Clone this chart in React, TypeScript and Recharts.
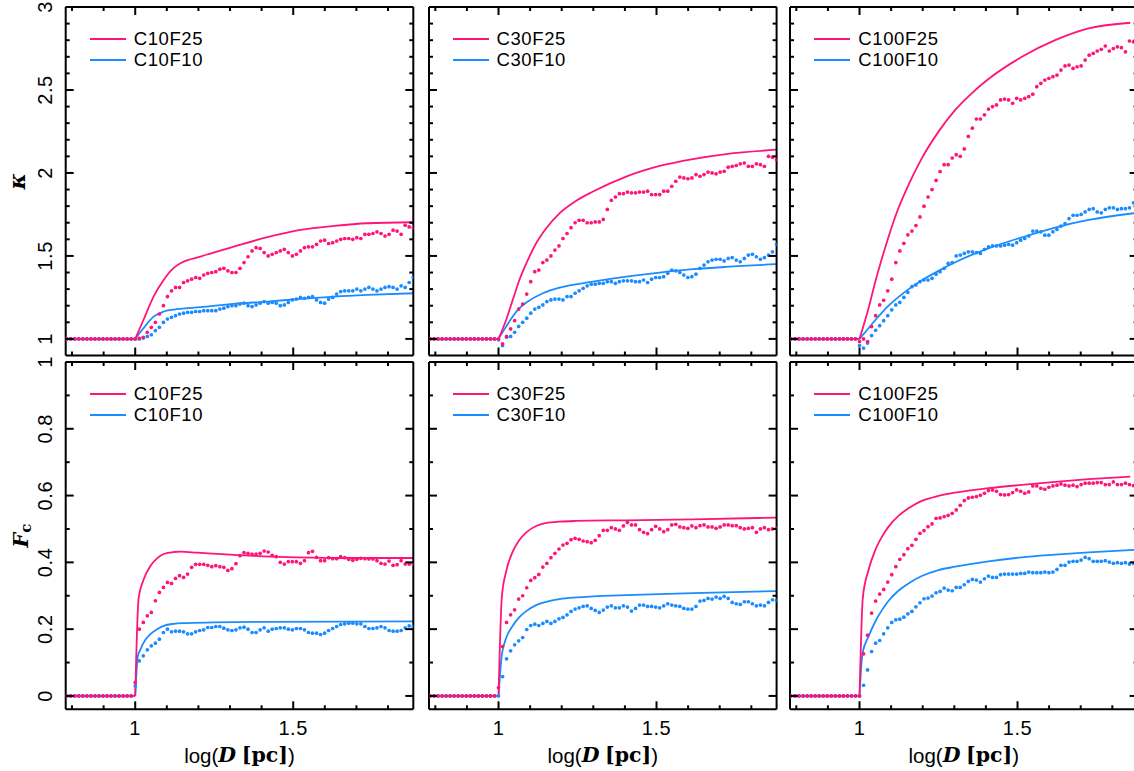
import React from 'react';
import { ComposedChart, Line, XAxis, YAxis, Legend, Label } from 'recharts';

const PINK = '#ff1478';
const BLUE = '#1a8cff';
const SANS = '"Liberation Sans", Arial, Helvetica, sans-serif';
const SERIF = '"DejaVu Serif", "Liberation Serif", serif';

// x grid of the simulation points (log D)
const logD = [
  0.7833, 0.796, 0.8088, 0.8215, 0.8343, 0.847, 0.8598, 0.8725, 0.8853, 0.898,
  0.9108, 0.9235, 0.9363, 0.949, 0.9618, 0.9745, 0.9873,
  1.0, 1.0128, 1.0255, 1.0383, 1.051, 1.0638, 1.0765, 1.0893, 1.102, 1.1148,
  1.1275, 1.1403, 1.153, 1.1658, 1.1785, 1.1913, 1.204, 1.2168, 1.2295, 1.2423,
  1.255, 1.2678, 1.2805, 1.2933, 1.306, 1.3188, 1.3315, 1.3443, 1.357, 1.3698,
  1.3825, 1.3953, 1.408, 1.4208, 1.4335, 1.4463, 1.459, 1.4718, 1.4845, 1.4973,
  1.51, 1.5228, 1.5355, 1.5483, 1.561, 1.5738, 1.5865, 1.5993, 1.612, 1.6248,
  1.6375, 1.6503, 1.663, 1.6758, 1.6885, 1.7013, 1.714, 1.7268, 1.7395, 1.7523,
  1.765, 1.7778, 1.7905, 1.8033, 1.816, 1.8288, 1.8415, 1.8543, 1.867, 1.8798,
];

// values before the onset (17 points, log D < 1)
const kappaPreDots = [1, 1, 1, 1, 1, 1, 1, 1, 1, 1, 1, 1, 1, 1, 1, 1, 1];
const fcPreDots = [0, 0, 0, 0, 0, 0, 0, 0, 0, 0, 0, 0, 0, 0, 0, 0, 0];

// kappa, simulation points (log D >= 1)
const kappaC10F25Dots = [
  1.0, 1.003, 1.01, 1.04, 1.07, 1.10, 1.15, 1.20, 1.255, 1.29,
  1.31, 1.31, 1.34, 1.35, 1.36, 1.37, 1.365, 1.385, 1.395, 1.40,
  1.405, 1.42, 1.425, 1.41, 1.40, 1.40, 1.425, 1.46, 1.495, 1.53,
  1.55, 1.545, 1.52, 1.50, 1.51, 1.52, 1.53, 1.54, 1.52, 1.50,
  1.51, 1.53, 1.55, 1.555, 1.555, 1.57, 1.59, 1.595, 1.575, 1.58,
  1.59, 1.60, 1.605, 1.605, 1.60, 1.61, 1.605, 1.63, 1.63, 1.635,
  1.645, 1.635, 1.62, 1.63, 1.655, 1.65, 1.63, 1.685, 1.675, 1.67,
];
const kappaC10F10Dots = [
  1.0, 1.0, 1.005, 1.015, 1.025, 1.05, 1.07, 1.10, 1.12, 1.13,
  1.14, 1.15, 1.155, 1.16, 1.16, 1.165, 1.165, 1.17, 1.17, 1.17,
  1.17, 1.18, 1.185, 1.195, 1.20, 1.20, 1.21, 1.215, 1.20, 1.195,
  1.205, 1.215, 1.225, 1.215, 1.22, 1.215, 1.20, 1.205, 1.22, 1.235,
  1.24, 1.25, 1.245, 1.25, 1.255, 1.235, 1.22, 1.215, 1.24, 1.25,
  1.27, 1.285, 1.29, 1.29, 1.29, 1.30, 1.29, 1.30, 1.31, 1.30,
  1.29, 1.30, 1.31, 1.315, 1.31, 1.30, 1.32, 1.31, 1.34, 1.37,
];
const kappaC30F25Dots = [
  1.0, 0.97, 1.015, 1.06, 1.11, 1.18, 1.21, 1.27, 1.345, 1.405,
  1.415, 1.46, 1.475, 1.50, 1.535, 1.56, 1.605, 1.635, 1.67, 1.70,
  1.715, 1.715, 1.70, 1.70, 1.705, 1.705, 1.72, 1.78, 1.835, 1.855,
  1.875, 1.875, 1.885, 1.88, 1.88, 1.885, 1.885, 1.89, 1.87, 1.87,
  1.87, 1.89, 1.89, 1.92, 1.95, 1.975, 1.97, 1.965, 1.97, 1.99,
  1.98, 1.99, 2.005, 2.0, 1.995, 2.005, 2.01, 2.035, 2.04, 2.045,
  2.055, 2.06, 2.04, 2.04, 2.055, 2.05, 2.04, 2.10, 2.095, 2.08,
];
const kappaC30F10Dots = [
  0.995, 0.96, 1.01, 1.015, 1.04, 1.075, 1.10, 1.125, 1.155, 1.18,
  1.19, 1.205, 1.225, 1.235, 1.24, 1.24, 1.235, 1.255, 1.255, 1.275,
  1.29, 1.305, 1.32, 1.33, 1.33, 1.335, 1.335, 1.345, 1.345, 1.335,
  1.345, 1.35, 1.35, 1.35, 1.345, 1.345, 1.355, 1.34, 1.36, 1.37,
  1.37, 1.375, 1.395, 1.415, 1.41, 1.40, 1.385, 1.37, 1.375, 1.39,
  1.425, 1.445, 1.465, 1.475, 1.48, 1.48, 1.47, 1.485, 1.49, 1.475,
  1.465, 1.485, 1.505, 1.51, 1.495, 1.48, 1.49, 1.505, 1.525, 1.57,
];
const kappaC100F25Dots = [
  0.984, 1.0, 0.984, 1.074, 1.14, 1.205, 1.233, 1.29, 1.36, 1.46,
  1.53, 1.576, 1.627, 1.65, 1.683, 1.735, 1.80, 1.855, 1.90, 1.955,
  2.008, 2.05, 2.05, 2.09, 2.11, 2.10, 2.145, 2.22, 2.27, 2.325,
  2.325, 2.35, 2.385, 2.40, 2.41, 2.44, 2.445, 2.44, 2.42, 2.45,
  2.44, 2.45, 2.46, 2.475, 2.52, 2.54, 2.56, 2.57, 2.58, 2.59,
  2.62, 2.645, 2.65, 2.63, 2.64, 2.645, 2.68, 2.71, 2.72, 2.735,
  2.745, 2.765, 2.735, 2.75, 2.76, 2.755, 2.73, 2.795, 2.79, 2.78,
];
const kappaC100F10Dots = [
  0.96, 0.945, 0.975, 1.02, 1.052, 1.08, 1.11, 1.14, 1.175, 1.205,
  1.22, 1.25, 1.28, 1.315, 1.325, 1.345, 1.355, 1.355, 1.365, 1.39,
  1.405, 1.425, 1.455, 1.46, 1.50, 1.505, 1.515, 1.525, 1.525, 1.52,
  1.515, 1.54, 1.555, 1.56, 1.56, 1.56, 1.565, 1.57, 1.565, 1.58,
  1.595, 1.605, 1.62, 1.65, 1.65, 1.645, 1.625, 1.625, 1.645, 1.66,
  1.68, 1.695, 1.725, 1.745, 1.745, 1.75, 1.765, 1.78, 1.785, 1.765,
  1.76, 1.78, 1.79, 1.79, 1.78, 1.785, 1.785, 1.79, 1.82, 1.83,
];

// F_c, simulation points (log D >= 1)
const fcC10F25Dots = [
  0.04, 0.20, 0.22, 0.24, 0.25, 0.285, 0.31, 0.325, 0.34, 0.337,
  0.352, 0.36, 0.355, 0.365, 0.385, 0.394, 0.394, 0.394, 0.391, 0.387,
  0.39, 0.387, 0.385, 0.376, 0.381, 0.396, 0.42, 0.429, 0.427, 0.425,
  0.425, 0.427, 0.434, 0.431, 0.421, 0.417, 0.40, 0.395, 0.402, 0.402,
  0.402, 0.397, 0.405, 0.429, 0.433, 0.415, 0.405, 0.405, 0.414, 0.411,
  0.411, 0.417, 0.414, 0.409, 0.406, 0.409, 0.412, 0.411, 0.41, 0.41,
  0.405, 0.397, 0.395, 0.404, 0.391, 0.393, 0.405, 0.395, 0.395, 0.395,
];
const fcC10F10Dots = [
  0.03, 0.105, 0.12, 0.138, 0.15, 0.158, 0.17, 0.19, 0.20, 0.192,
  0.194, 0.194, 0.192, 0.186, 0.186, 0.192, 0.196, 0.198, 0.205, 0.205,
  0.208, 0.208, 0.203, 0.198, 0.196, 0.198, 0.204, 0.206, 0.20, 0.19,
  0.19, 0.198, 0.204, 0.194, 0.20, 0.202, 0.204, 0.204, 0.20, 0.198,
  0.202, 0.202, 0.198, 0.19, 0.188, 0.188, 0.184, 0.188, 0.196, 0.202,
  0.208, 0.214, 0.216, 0.218, 0.218, 0.216, 0.216, 0.208, 0.202, 0.202,
  0.204, 0.208, 0.204, 0.196, 0.194, 0.194, 0.196, 0.204, 0.21, 0.208,
];
const fcC30F25Dots = [
  0.025, 0.148, 0.22, 0.243, 0.258, 0.29, 0.30, 0.324, 0.346, 0.354,
  0.364, 0.386, 0.397, 0.414, 0.427, 0.44, 0.452, 0.457, 0.468, 0.472,
  0.469, 0.464, 0.462, 0.459, 0.466, 0.48, 0.496, 0.496, 0.504, 0.50,
  0.496, 0.509, 0.52, 0.512, 0.512, 0.498, 0.49, 0.486, 0.498, 0.508,
  0.50, 0.492, 0.498, 0.512, 0.514, 0.506, 0.504, 0.502, 0.509, 0.504,
  0.51, 0.512, 0.506, 0.506, 0.502, 0.506, 0.512, 0.512, 0.51, 0.51,
  0.504, 0.50, 0.502, 0.504, 0.49, 0.50, 0.504, 0.498, 0.50, 0.502,
];
const fcC30F10Dots = [
  0.0, 0.058, 0.111, 0.135, 0.153, 0.165, 0.175, 0.199, 0.211, 0.215,
  0.211, 0.217, 0.223, 0.217, 0.223, 0.231, 0.235, 0.243, 0.253, 0.26,
  0.264, 0.268, 0.27, 0.262, 0.256, 0.25, 0.257, 0.266, 0.27, 0.264,
  0.264, 0.27, 0.266, 0.254, 0.262, 0.272, 0.272, 0.268, 0.268, 0.266,
  0.264, 0.27, 0.276, 0.272, 0.27, 0.268, 0.262, 0.26, 0.26, 0.268,
  0.284, 0.286, 0.292, 0.29, 0.296, 0.292, 0.298, 0.292, 0.28, 0.276,
  0.274, 0.282, 0.282, 0.276, 0.27, 0.272, 0.27, 0.28, 0.288, 0.286,
];
const fcC100F25Dots = [
  0.0, 0.126, 0.182, 0.248, 0.284, 0.305, 0.319, 0.341, 0.363, 0.387,
  0.409, 0.423, 0.441, 0.451, 0.469, 0.487, 0.495, 0.507, 0.515, 0.532,
  0.533, 0.537, 0.541, 0.547, 0.557, 0.571, 0.585, 0.593, 0.595, 0.597,
  0.601, 0.607, 0.615, 0.617, 0.613, 0.603, 0.602, 0.603, 0.609, 0.617,
  0.613, 0.607, 0.611, 0.629, 0.629, 0.622, 0.619, 0.625, 0.629, 0.631,
  0.635, 0.631, 0.629, 0.631, 0.627, 0.633, 0.637, 0.637, 0.637, 0.639,
  0.639, 0.633, 0.633, 0.641, 0.633, 0.633, 0.637, 0.633, 0.63, 0.63,
];
const fcC100F10Dots = [
  0.0, 0.032, 0.078, 0.133, 0.158, 0.166, 0.186, 0.204, 0.22, 0.228,
  0.23, 0.236, 0.246, 0.253, 0.267, 0.279, 0.291, 0.293, 0.299, 0.309,
  0.313, 0.323, 0.317, 0.315, 0.325, 0.325, 0.333, 0.343, 0.349, 0.347,
  0.341, 0.351, 0.359, 0.355, 0.355, 0.363, 0.365, 0.365, 0.365, 0.365,
  0.367, 0.367, 0.371, 0.369, 0.369, 0.369, 0.371, 0.369, 0.371, 0.379,
  0.391, 0.391, 0.401, 0.403, 0.403, 0.407, 0.415, 0.411, 0.403, 0.403,
  0.403, 0.405, 0.401, 0.397, 0.399, 0.397, 0.399, 0.395, 0.397, 0.407,
];

// model curves: [log D, value]
const kappaPreLine: [number, number][] = [[0.78, 1], [1.0, 1]];
const fcPreLine: [number, number][] = [[0.78, 0], [1.0, 0]];

const kappaC10F25Line: [number, number][] = [
  [1, 1], [1.026, 1.114], [1.058, 1.255], [1.09, 1.355], [1.121, 1.426], [1.143, 1.456],
  [1.206, 1.496], [1.312, 1.556], [1.418, 1.613], [1.523, 1.657], [1.629, 1.681], [1.735, 1.697], [1.88, 1.703],
];
const kappaC10F10Line: [number, number][] = [
  [1, 1], [1.026, 1.064], [1.058, 1.134], [1.09, 1.165], [1.132, 1.179], [1.206, 1.191],
  [1.312, 1.211], [1.418, 1.225], [1.523, 1.241], [1.629, 1.255], [1.735, 1.265], [1.88, 1.275],
];
const kappaC30F25Line: [number, number][] = [
  [1, 1], [1.024, 1.114], [1.045, 1.235], [1.066, 1.355], [1.088, 1.455], [1.119, 1.576],
  [1.151, 1.667], [1.193, 1.757], [1.246, 1.833], [1.299, 1.888], [1.404, 1.978], [1.51, 2.042],
  [1.615, 2.084], [1.72, 2.114], [1.88, 2.14],
];
const kappaC30F10Line: [number, number][] = [
  [1, 1], [1.024, 1.074], [1.045, 1.135], [1.066, 1.185], [1.088, 1.219], [1.14, 1.275],
  [1.193, 1.309], [1.299, 1.345], [1.404, 1.375], [1.51, 1.40], [1.615, 1.42], [1.72, 1.434], [1.88, 1.45],
];
const kappaC100F25Line: [number, number][] = [
  [1, 1], [1.0285, 1.185], [1.05, 1.345], [1.071, 1.486], [1.092, 1.616], [1.123, 1.787],
  [1.155, 1.928], [1.197, 2.088], [1.25, 2.249], [1.303, 2.38], [1.355, 2.48], [1.408, 2.566],
  [1.514, 2.70], [1.619, 2.80], [1.725, 2.871], [1.857, 2.905],
];
const kappaC100F10Line: [number, number][] = [
  [1, 1], [1.0285, 1.064], [1.05, 1.114], [1.071, 1.159], [1.092, 1.20], [1.145, 1.285],
  [1.197, 1.353], [1.25, 1.41], [1.303, 1.462], [1.408, 1.546], [1.514, 1.612], [1.619, 1.671],
  [1.725, 1.717], [1.88, 1.76],
];
const fcC10F25Line: [number, number][] = [
  [1, 0], [1.0105, 0.29], [1.026, 0.347], [1.048, 0.389], [1.069, 0.412], [1.09, 0.425],
  [1.122, 0.431], [1.143, 0.432], [1.196, 0.429], [1.30, 0.423], [1.407, 0.418], [1.513, 0.415],
  [1.671, 0.413], [1.88, 0.413],
];
const fcC10F10Line: [number, number][] = [
  [1, 0], [1.0085, 0.12], [1.016, 0.138], [1.032, 0.168], [1.048, 0.185], [1.069, 0.20],
  [1.09, 0.21], [1.122, 0.216], [1.154, 0.218], [1.249, 0.22], [1.407, 0.222], [1.88, 0.223],
];
const fcC30F25Line: [number, number][] = [
  [1, 0], [1.0105, 0.297], [1.024, 0.372], [1.045, 0.432], [1.066, 0.467], [1.088, 0.49],
  [1.119, 0.509], [1.151, 0.518], [1.193, 0.522], [1.246, 0.524], [1.404, 0.526], [1.615, 0.529], [1.88, 0.534],
];
const fcC30F10Line: [number, number][] = [
  [1, 0], [1.0105, 0.123], [1.024, 0.173], [1.045, 0.21], [1.066, 0.236], [1.088, 0.254],
  [1.119, 0.272], [1.151, 0.282], [1.193, 0.29], [1.246, 0.295], [1.299, 0.298], [1.404, 0.302],
  [1.615, 0.308], [1.88, 0.314],
];
const fcC100F25Line: [number, number][] = [
  [1, 0], [1.0105, 0.295], [1.0285, 0.377], [1.05, 0.437], [1.071, 0.477], [1.092, 0.507],
  [1.123, 0.539], [1.155, 0.562], [1.197, 0.584], [1.25, 0.599], [1.303, 0.609], [1.408, 0.622],
  [1.514, 0.632], [1.619, 0.641], [1.725, 0.649], [1.857, 0.657],
];
const fcC100F10Line: [number, number][] = [
  [1, 0], [1.0095, 0.128], [1.0285, 0.178], [1.05, 0.223], [1.071, 0.257], [1.092, 0.285],
  [1.123, 0.315], [1.155, 0.337], [1.197, 0.359], [1.25, 0.377], [1.303, 0.387], [1.408, 0.403],
  [1.514, 0.415], [1.619, 0.423], [1.725, 0.43], [1.88, 0.438],
];

// axes
const xDomain: [number, number] = [0.78, 1.88];
const xTicks = [0.8, 0.9, 1.0, 1.1, 1.2, 1.3, 1.4, 1.5, 1.6, 1.7, 1.8];
const xMajor = [1.0, 1.5];
const xLabels = ['1', '1.5'];
const kappaDomain: [number, number] = [0.9, 3.0];
const kappaTicks = [1.0, 1.1, 1.2, 1.3, 1.4, 1.5, 1.6, 1.7, 1.8, 1.9, 2.0, 2.1, 2.2, 2.3, 2.4, 2.5, 2.6, 2.7, 2.8, 2.9, 3.0];
const kappaMajor = [1.0, 1.5, 2.0, 2.5, 3.0];
const kappaLabels = ['1', '1.5', '2', '2.5', '3'];
const fcDomain: [number, number] = [-0.04, 1.0];
const fcTicks = [0, 0.1, 0.2, 0.3, 0.4, 0.5, 0.6, 0.7, 0.8, 0.9, 1.0];
const fcMajor = [0, 0.2, 0.4, 0.6, 0.8, 1.0];
const fcLabels = ['0', '0.2', '0.4', '0.6', '0.8', '1'];

const COLS = [
  { left: 65.7, width: 347.6 },
  { left: 428.5, width: 347.6 },
  { left: 790.3, width: 347.6 },
];
const ROWS = [
  { top: 6.7, height: 348.5 },
  { top: 362, height: 347.3 },
];

const toPts = (arr: [number, number][]) => arr.map(([x, y]) => ({ x, y }));
const toDots = (pre: number[], post: number[]) => {
  const all = [...pre, ...post];
  return logD.map((x, i) => ({ x, y: all[i] }));
};

type Side = 'left' | 'right' | 'top' | 'bottom';
const makeTick = (side: Side, majors: number[], labels: string[] | null) => (props: any) => {
  const { x, y, payload } = props;
  const v = Number(payload && payload.value);
  const mi = majors.findIndex((m) => Math.abs(m - v) < 1e-6);
  const len = mi >= 0 ? 8 : 4;
  let x2 = x;
  let y2 = y;
  if (side === 'left') x2 = x + len;
  if (side === 'right') x2 = x - len;
  if (side === 'top') y2 = y + len;
  if (side === 'bottom') y2 = y - len;
  let lab: React.ReactNode = null;
  if (labels && mi >= 0) {
    if (side === 'left') {
      const lx = x - 21;
      lab = (
        <text x={lx} y={y} transform={`rotate(-90 ${lx} ${y})`} textAnchor="middle" dominantBaseline="central"
          fontFamily={SANS} fontSize={20} letterSpacing={0.6} fill="#000">{labels[mi]}</text>
      );
    } else if (side === 'bottom') {
      lab = (
        <text x={x} y={y + 19} textAnchor="middle" dominantBaseline="central"
          fontFamily={SANS} fontSize={20} letterSpacing={0.6} fill="#000">{labels[mi]}</text>
      );
    }
  }
  return (
    <g>
      <line x1={x} y1={y} x2={x2} y2={y2} stroke="#000" strokeWidth={2} />
      {lab}
    </g>
  );
};

const legendFor = (names: string[]) => (props: any) => {
  const items = ((props && props.payload) || [])
    .filter((p: any) => names.includes(p.value))
    .sort((a: any, b: any) => names.indexOf(a.value) - names.indexOf(b.value));
  return (
    <div style={{ fontFamily: SANS, fontSize: 18.5, color: '#000' }}>
      {items.map((it: any) => (
        <div key={it.value} style={{ display: 'flex', alignItems: 'center', height: 21, whiteSpace: 'nowrap' }}>
          <svg width={36} height={6} style={{ display: 'block' }}>
            <line x1={0} y1={3} x2={36} y2={3} stroke={it.color} strokeWidth={2} />
          </svg>
          <span style={{ marginLeft: 8, letterSpacing: 0.6 }}>{it.value}</span>
        </div>
      ))}
    </div>
  );
};

const kappaTitle = (props: any) => {
  const vb = props.viewBox || {};
  const cx = vb.x + 17;
  const cy = vb.y + vb.height / 2;
  return (
    <text x={cx} y={cy} transform={`rotate(-90 ${cx} ${cy})`} textAnchor="middle" dominantBaseline="central"
      fontFamily={SERIF} fontStyle="italic" fontWeight="bold" fontSize={22} fill="#000">κ</text>
  );
};
const fcTitle = (props: any) => {
  const vb = props.viewBox || {};
  const cx = vb.x + 20;
  const cy = vb.y + vb.height / 2;
  return (
    <text x={cx} y={cy} transform={`rotate(-90 ${cx} ${cy})`} textAnchor="middle" dominantBaseline="central"
      fontFamily={SERIF} fontWeight="bold" fontSize={21} fill="#000">
      <tspan fontStyle="italic">F</tspan>
      <tspan fontSize={15} dy={6}>c</tspan>
    </text>
  );
};
const xTitle = (props: any) => {
  const vb = props.viewBox || {};
  const cx = vb.x + vb.width / 2;
  const cy = vb.y + 46;
  return (
    <text x={cx} y={cy} textAnchor="middle" dominantBaseline="central" fontFamily={SANS} fontSize={20.5} fill="#000">
      <tspan>log(</tspan>
      <tspan fontFamily={SERIF} fontStyle="italic" fontWeight="bold">D</tspan>
      <tspan> </tspan>
      <tspan fontFamily={SERIF} fontWeight="bold">[pc]</tspan>
      <tspan>)</tspan>
    </text>
  );
};

type PanelDef = {
  row: number;
  col: number;
  pinkName: string;
  blueName: string;
  pinkLine: [number, number][];
  blueLine: [number, number][];
  pinkDots: number[];
  blueDots: number[];
};

const panels: PanelDef[] = [
  { row: 0, col: 0, pinkName: 'C10F25', blueName: 'C10F10', pinkLine: kappaC10F25Line, blueLine: kappaC10F10Line, pinkDots: kappaC10F25Dots, blueDots: kappaC10F10Dots },
  { row: 0, col: 1, pinkName: 'C30F25', blueName: 'C30F10', pinkLine: kappaC30F25Line, blueLine: kappaC30F10Line, pinkDots: kappaC30F25Dots, blueDots: kappaC30F10Dots },
  { row: 0, col: 2, pinkName: 'C100F25', blueName: 'C100F10', pinkLine: kappaC100F25Line, blueLine: kappaC100F10Line, pinkDots: kappaC100F25Dots, blueDots: kappaC100F10Dots },
  { row: 1, col: 0, pinkName: 'C10F25', blueName: 'C10F10', pinkLine: fcC10F25Line, blueLine: fcC10F10Line, pinkDots: fcC10F25Dots, blueDots: fcC10F10Dots },
  { row: 1, col: 1, pinkName: 'C30F25', blueName: 'C30F10', pinkLine: fcC30F25Line, blueLine: fcC30F10Line, pinkDots: fcC30F25Dots, blueDots: fcC30F10Dots },
  { row: 1, col: 2, pinkName: 'C100F25', blueName: 'C100F10', pinkLine: fcC100F25Line, blueLine: fcC100F10Line, pinkDots: fcC100F25Dots, blueDots: fcC100F10Dots },
];

const axisLine = { stroke: '#000', strokeWidth: 2 };

function Panel({ p }: { p: PanelDef }) {
  const col = COLS[p.col];
  const row = ROWS[p.row];
  const isKappa = p.row === 0;
  const Lw = p.col === 0 ? col.left : 8;
  const Rw = 6;
  const Th = 6;
  const Bh = p.row === 1 ? 64 : 6;
  const width = Lw + col.width + Rw;
  const height = Th + row.height + Bh;
  const yDomain = isKappa ? kappaDomain : fcDomain;
  const yTicks = isKappa ? kappaTicks : fcTicks;
  const yMajor = isKappa ? kappaMajor : fcMajor;
  const yLabels = p.col === 0 ? (isKappa ? kappaLabels : fcLabels) : null;
  const preLine = isKappa ? kappaPreLine : fcPreLine;
  const preDots = isKappa ? kappaPreDots : fcPreDots;
  return (
    <div style={{ position: 'absolute', left: col.left - Lw, top: row.top - Th, width, height }}>
      <ComposedChart width={width} height={height} margin={{ top: 0, right: 0, bottom: 0, left: 0 }}>
        <XAxis type="number" dataKey="x" domain={xDomain} allowDataOverflow ticks={xTicks} interval={0}
          tickSize={0} tickMargin={0} tickLine={false} axisLine={axisLine} height={Bh} orientation="bottom"
          tick={makeTick('bottom', xMajor, p.row === 1 ? xLabels : null)}>
          {p.row === 1 ? <Label content={xTitle} /> : null}
        </XAxis>
        <XAxis xAxisId="t" type="number" dataKey="x" domain={xDomain} allowDataOverflow ticks={xTicks} interval={0}
          tickSize={0} tickMargin={0} tickLine={false} axisLine={axisLine} height={Th} orientation="top"
          tick={makeTick('top', xMajor, null)} />
        <YAxis type="number" domain={yDomain} allowDataOverflow ticks={yTicks} interval={0}
          tickSize={0} tickMargin={0} tickLine={false} axisLine={axisLine} width={Lw} orientation="left"
          tick={makeTick('left', yMajor, yLabels)}>
          {p.col === 0 ? <Label content={isKappa ? kappaTitle : fcTitle} /> : null}
        </YAxis>
        <YAxis yAxisId="r" type="number" domain={yDomain} allowDataOverflow ticks={yTicks} interval={0}
          tickSize={0} tickMargin={0} tickLine={false} axisLine={axisLine} width={Rw} orientation="right"
          tick={makeTick('right', yMajor, null)} />
        <Legend layout="vertical" align="center" verticalAlign="middle" content={legendFor([p.pinkName, p.blueName])}
          wrapperStyle={{ left: Lw + 24, top: Th + 21.5, width: 'auto', height: 'auto' }} />
        <Line data={toPts(preLine)} dataKey="y" type="linear" stroke={BLUE} strokeWidth={1.8} dot={false}
          activeDot={false} isAnimationActive={false} legendType="none" />
        <Line data={toPts(p.blueLine)} dataKey="y" name={p.blueName} type="monotone" stroke={BLUE} strokeWidth={1.8}
          dot={false} activeDot={false} isAnimationActive={false} />
        <Line data={toPts(preLine)} dataKey="y" type="linear" stroke={PINK} strokeWidth={1.8} dot={false}
          activeDot={false} isAnimationActive={false} legendType="none" />
        <Line data={toPts(p.pinkLine)} dataKey="y" name={p.pinkName} type="monotone" stroke={PINK} strokeWidth={1.8}
          dot={false} activeDot={false} isAnimationActive={false} />
        <Line data={toDots(preDots, p.blueDots)} dataKey="y" stroke="none" legendType="none"
          dot={{ r: 1.85, fill: BLUE, stroke: 'none' }} activeDot={false} isAnimationActive={false} />
        <Line data={toDots(preDots, p.pinkDots)} dataKey="y" stroke="none" legendType="none"
          dot={{ r: 1.85, fill: PINK, stroke: 'none' }} activeDot={false} isAnimationActive={false} />
      </ComposedChart>
    </div>
  );
}

export default function App() {
  return (
    <div style={{ position: 'absolute', left: 0, top: 0, width: 1134, height: 771, overflow: 'hidden', background: '#fff' }}>
      {panels.map((p) => (
        <Panel key={`${p.row}-${p.col}`} p={p} />
      ))}
    </div>
  );
}
